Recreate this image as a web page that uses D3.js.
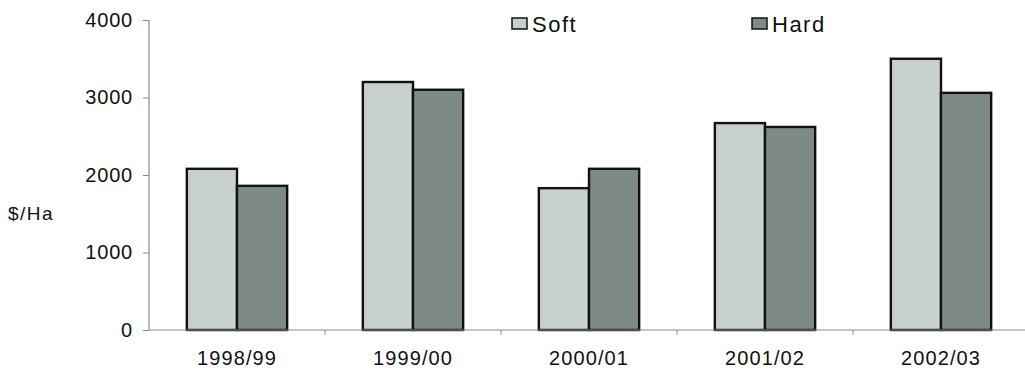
<!DOCTYPE html>
<html>
<head>
<meta charset="utf-8">
<script src="https://cdn.jsdelivr.net/npm/d3@7"></script>
<style>
  html, body { margin: 0; padding: 0; background: #fff; }
  svg text { font-family: "Liberation Sans", Arial, Helvetica, sans-serif; fill: #111; }
</style>
</head>
<body>
<svg id="chart" width="1025" height="374"></svg>
<script>
// Gross margin per hectare by season, soft vs hard
const seasons = ["1998/99", "1999/00", "2000/01", "2001/02", "2002/03"];
const seriesNames = ["Soft", "Hard"];
const softValues = [2080, 3200, 1830, 2670, 3500];
const hardValues = [1860, 3100, 2080, 2620, 3060];
const yTicks = [0, 1000, 2000, 3000, 4000];
const yLabel = "$/Ha";

const colors = { Soft: "#c7d0cb", Hard: "#7e8b84" };

const svg = d3.select("#chart");
const plot = { left: 149, right: 1029, top: 20, bottom: 330 };

const x0 = d3.scaleBand()
  .domain(seasons)
  .range([plot.left, plot.right])
  .paddingInner(0.43)
  .paddingOuter(0.215);

const x1 = d3.scaleBand()
  .domain(seriesNames)
  .range([0, x0.bandwidth()]);

const y = d3.scaleLinear()
  .domain([0, 4000])
  .range([plot.bottom, plot.top]);

const rows = seasons.map((s, i) => ({ season: s, Soft: softValues[i], Hard: hardValues[i] }));

// y axis
const yAxis = svg.append("g")
  .attr("transform", `translate(${plot.left},0)`)
  .call(d3.axisLeft(y).tickValues(yTicks).tickSize(6).tickPadding(10).tickFormat(d3.format("d")));
yAxis.select(".domain").attr("stroke", "#8a8a8a").attr("stroke-width", 1.2).attr("d", `M0,${plot.top}V${plot.bottom}`);
yAxis.selectAll(".tick line").attr("stroke", "#8a8a8a");
yAxis.selectAll(".tick text").attr("font-size", 20).attr("letter-spacing", 0.8).attr("fill", "#111");

// bars
const groups = svg.append("g").selectAll("g")
  .data(rows)
  .join("g")
  .attr("transform", d => `translate(${x0(d.season)},0)`);

groups.selectAll("rect")
  .data(d => seriesNames.map(k => ({ key: k, value: d[k] })))
  .join("rect")
  .attr("x", d => x1(d.key))
  .attr("width", x1.bandwidth())
  .attr("y", d => y(d.value))
  .attr("height", d => y(0) - y(d.value))
  .attr("fill", d => colors[d.key])
  .attr("stroke", "#111")
  .attr("stroke-width", 2.4);

// x axis with ticks between seasons
const boundaries = seasons.slice(1).map(s => x0(s) - x0.step() * x0.paddingInner() / 2);
const xAxis = svg.append("g")
  .attr("transform", `translate(0,${plot.bottom})`);
xAxis.append("line")
  .attr("x1", plot.left).attr("x2", 1025)
  .attr("stroke", "#8a8a8a").attr("stroke-width", 1.2);
xAxis.selectAll("line.tk")
  .data(boundaries)
  .join("line")
  .attr("class", "tk")
  .attr("x1", d => d).attr("x2", d => d)
  .attr("y1", 0).attr("y2", 5)
  .attr("stroke", "#8a8a8a");
xAxis.selectAll("text")
  .data(seasons)
  .join("text")
  .attr("x", d => x0(d) + x0.bandwidth() / 2)
  .attr("y", 35)
  .attr("text-anchor", "middle")
  .attr("font-size", 20)
  .attr("letter-spacing", 1.1)
  .text(d => d);

// y label
svg.append("text")
  .attr("x", 8).attr("y", 220)
  .attr("font-size", 19)
  .attr("letter-spacing", 1.5)
  .text(yLabel);

// legend
const legendPos = { Soft: 512, Hard: 752 };
const legend = svg.append("g").selectAll("g")
  .data(seriesNames)
  .join("g")
  .attr("transform", d => `translate(${legendPos[d]},18)`);
legend.append("rect")
  .attr("width", 15).attr("height", 11)
  .attr("fill", d => colors[d])
  .attr("stroke", "#111").attr("stroke-width", 1.5);
legend.append("text")
  .attr("x", 20).attr("y", 14)
  .attr("font-size", 22)
  .attr("letter-spacing", 1.5)
  .text(d => d);
</script>
</body>
</html>
